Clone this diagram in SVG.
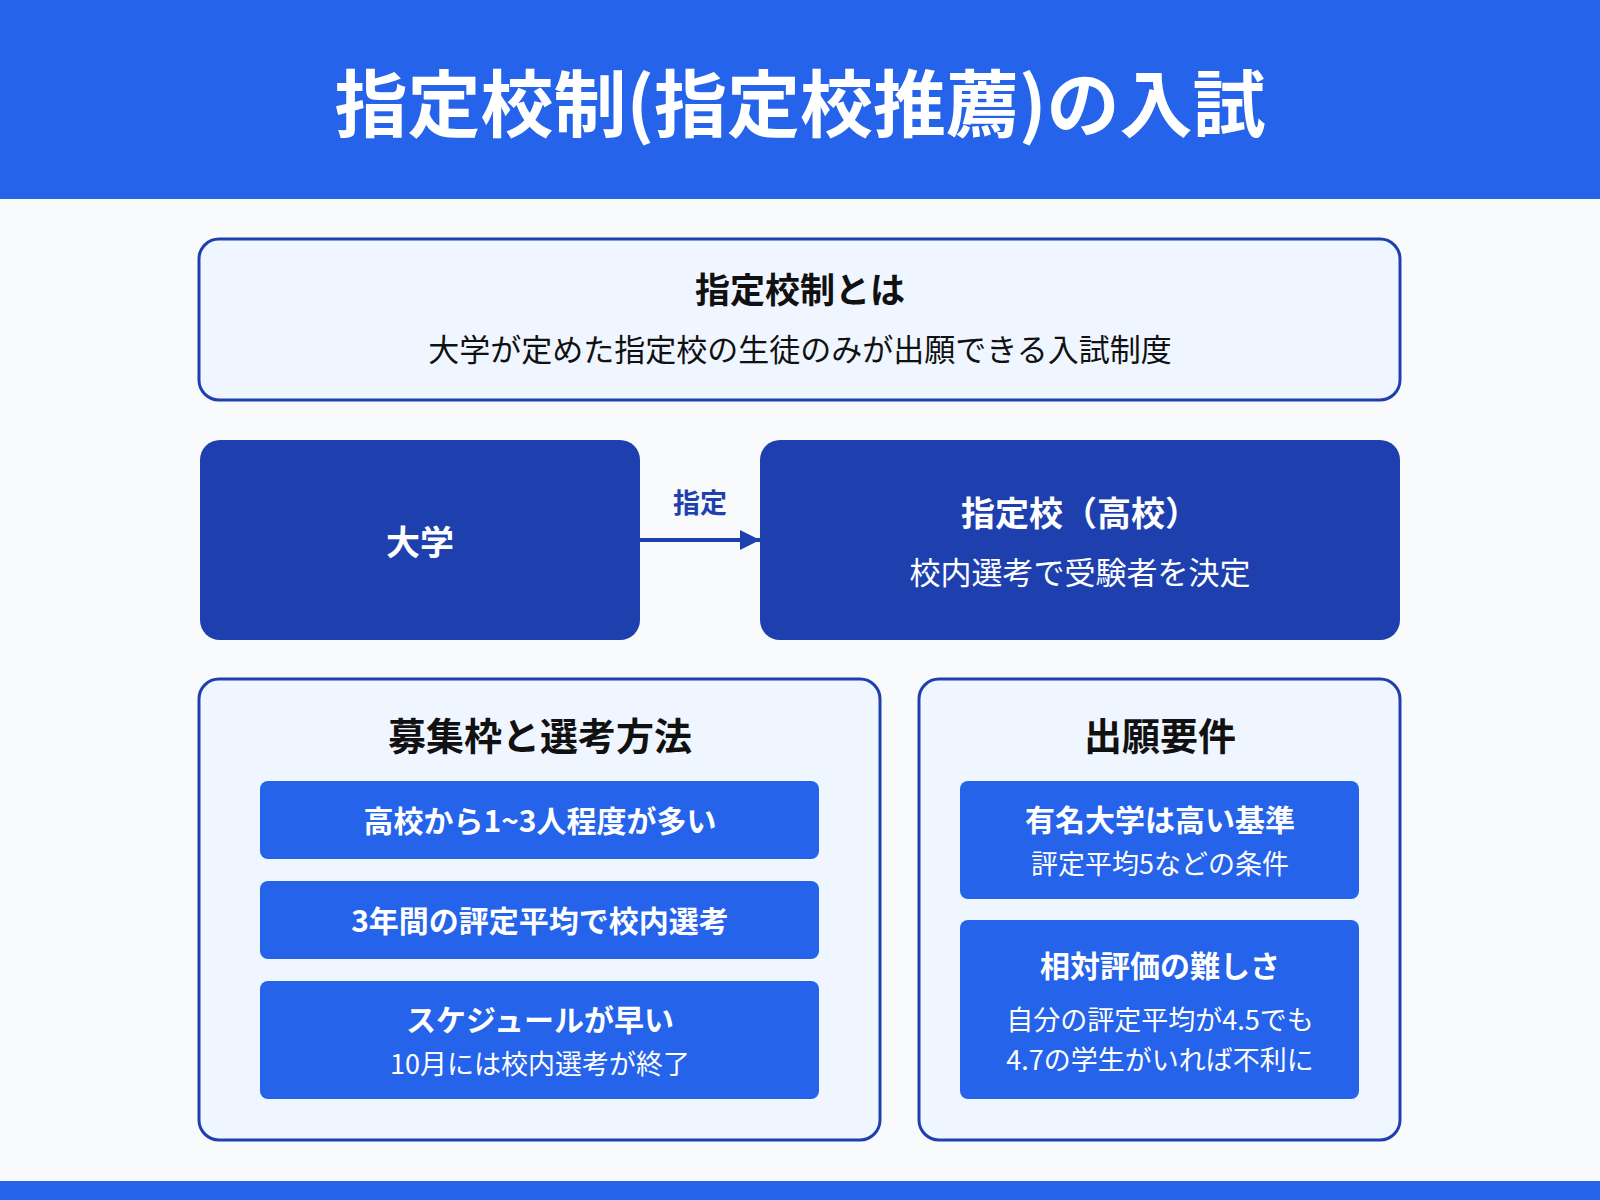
<svg xmlns="http://www.w3.org/2000/svg" width="1600" height="1200" viewBox="0 0 1600 1200">
<style>
text{font-family:"Noto Sans CJK JP","Noto Sans",sans-serif;text-anchor:middle;dominant-baseline:central}
.b{font-weight:700}
.panel{fill:#eff6ff;stroke:#1e40af;stroke-width:3}
.dark{fill:#1e40af}
.item{fill:#2563eb}
.w{fill:#fff}
.k{fill:#111}
</style>
<defs><marker id="ah" markerWidth="20" markerHeight="20" refX="20" refY="10" orient="auto" markerUnits="userSpaceOnUse" viewBox="0 0 20 20"><path d="M0,0 L20,10 L0,20z" fill="#1e40af"/></marker></defs>
<rect width="1600" height="1200" fill="#f8fafc"/>
<g id="header"><rect width="1600" height="199" fill="#2563eb"/>
<text x="800" y="99" class="b w" font-size="73">指定校制(指定校推薦)の入試</text></g>
<rect y="1181" width="1600" height="19" fill="#2563eb"/>
<g id="def"><rect class="panel" x="199" y="239" width="1201" height="161" rx="20"/>
<text x="800" y="287" class="b k" font-size="35">指定校制とは</text>
<text x="800" y="347" class="k" font-size="31">大学が定めた指定校の生徒のみが出願できる入試制度</text></g>
<g id="connectors"><line x1="640" y1="540" x2="760" y2="540" stroke="#1e40af" stroke-width="4" marker-end="url(#ah)"/>
<text x="700" y="501" class="b" fill="#1e40af" font-size="27">指定</text></g>
<g id="univ"><rect class="dark" x="200" y="440" width="440" height="200" rx="20"/>
<text x="420" y="540" class="b w" font-size="34">大学</text></g>
<g id="school"><rect class="dark" x="760" y="440" width="640" height="200" rx="20"/>
<text x="1080" y="511" class="b w" font-size="34">指定校（高校）</text>
<text x="1080" y="570" class="w" font-size="31">校内選考で受験者を決定</text></g>
<g id="left"><rect class="panel" x="199" y="679" width="681" height="461" rx="20"/>
<text x="540" y="733" class="b k" font-size="38">募集枠と選考方法</text>
<rect class="item" x="260" y="781" width="559" height="78" rx="8"/>
<text x="540" y="819" class="b w" font-size="30">高校から1~3人程度が多い</text>
<rect class="item" x="260" y="881" width="559" height="78" rx="8"/>
<text x="540" y="919" class="b w" font-size="30">3年間の評定平均で校内選考</text>
<rect class="item" x="260" y="981" width="559" height="118" rx="8"/>
<text x="540" y="1018" class="b w" font-size="30">スケジュールが早い</text>
<text x="540" y="1062" class="w" font-size="27">10月には校内選考が終了</text></g>
<g id="right"><rect class="panel" x="919" y="679" width="481" height="461" rx="20"/>
<text x="1160" y="733" class="b k" font-size="38">出願要件</text>
<rect class="item" x="960" y="781" width="399" height="118" rx="8"/>
<text x="1160" y="818" class="b w" font-size="30">有名大学は高い基準</text>
<rect class="item" x="960" y="920" width="399" height="179" rx="8"/>
<text x="1160" y="862" class="w" font-size="27">評定平均5などの条件</text>
<text x="1160" y="964" class="b w" font-size="30">相対評価の難しさ</text>
<text x="1160" y="1018" class="w" font-size="27">自分の評定平均が4.5でも</text>
<text x="1160" y="1058" class="w" font-size="27">4.7の学生がいれば不利に</text></g>
</svg>
